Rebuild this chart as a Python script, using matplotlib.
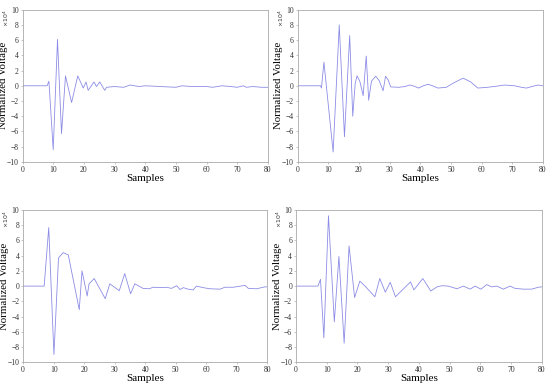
import matplotlib
matplotlib.use("Agg")
import matplotlib.pyplot as plt

# datos (x en muestras, y en unidades de 1e4)
x1 = [0, 8.0, 8.6, 10.0, 11.4, 12.7, 14.0, 16.0, 18.0, 19.8, 20.7, 21.4, 23.3, 24.1, 25.2, 26.8,
      27.4, 30, 33, 35, 38, 40, 45, 50, 52, 55, 60, 62, 65, 68, 70, 72, 73, 75, 78, 80]
y1 = [0, 0, 0.6, -8.4, 6.1, -6.3, 1.3, -2.2, 1.3, -0.3, 0.5, -0.6, 0.5, -0.1, 0.5, -0.6,
      -0.2, -0.1, -0.2, 0.1, -0.1, 0.0, -0.1, -0.2, 0.0, -0.1, -0.1, -0.2, 0.0, -0.1, -0.2, 0.0, -0.2, -0.1, -0.2, -0.2]

x2 = [0, 7.5, 7.8, 8.6, 11.6, 13.6, 15.3, 17.0, 18.0, 18.8, 19.4, 20.3, 21.4, 22.4, 23.2, 24.1,
      25.5, 26.6, 27.9, 28.7, 29.5, 30.4, 33, 35, 36.6, 38, 39.5, 41, 42.6, 44, 45.8, 48.5,
      51, 54, 56.5, 58.8, 62, 65, 67.5, 70.8, 73, 74.6, 76.5, 78.4, 80]
y2 = [0, 0, -0.3, 3.1, -8.7, 8.0, -6.7, 6.6, -4.0, 0.3, 1.3, 0.6, -1.3, 3.9, -1.9, 0.6,
      1.25, 0.7, -0.65, 1.25, 0.8, -0.15, -0.2, -0.1, 0.1, -0.05, -0.3, 0.0, 0.2, 0.0, -0.3, -0.2,
      0.4, 1.0, 0.5, -0.3, -0.2, -0.05, 0.1, 0.0, -0.2, -0.3, -0.1, 0.1, 0.0]

x3 = [0, 6.9, 8.4, 10.1, 11.6, 13.1, 14.8, 18.4, 19.3, 21.0, 21.6, 23.3, 26.9, 28.4, 31.5, 33.3,
      35.2, 36.6, 39.3, 41.3, 42.6, 45.9, 47, 48.6, 50.3, 51.4, 52.5, 54, 55.7, 56.8, 59, 61.2,
      64.5, 66.1, 68.9, 72.7, 73.8, 76.5, 79.2, 80]
y3 = [0, 0, 7.7, -9.0, 3.7, 4.4, 4.1, -3.1, 2.0, -1.3, 0.3, 1.0, -1.65, 0.3, -0.6, 1.65,
      -1.0, 0.3, -0.3, -0.35, -0.15, -0.2, -0.15, -0.3, 0.05, -0.45, -0.2, -0.4, -0.5, 0.0, -0.2, -0.35,
      -0.4, -0.15, -0.15, 0.1, -0.3, -0.35, -0.1, -0.1]

x4 = [0, 7.2, 8.0, 9.1, 10.6, 12.5, 14.0, 15.7, 17.3, 19.1, 20.8, 22.5, 25.7, 27.3, 29.1, 30.7,
      32.4, 37.3, 38.4, 41.3, 43.9, 45.9, 47.5, 49.6, 52.4, 54.5, 56.7, 58.3, 60.2, 62.1, 63.7,
      65.4, 67.5, 69.7, 71.3, 74, 76.7, 78.9, 80]
y4 = [0, 0, 0.9, -6.8, 9.25, -4.7, 3.9, -7.5, 5.3, -1.5, 0.65, 0.0, -1.4, 1.0, -0.8, 0.5,
      -1.4, 0.55, -0.5, 1.0, -0.65, -0.1, 0.05, 0.0, -0.35, 0.0, -0.4, 0.0, -0.4, 0.2, -0.1,
      0.0, -0.4, 0.0, -0.3, -0.4, -0.4, -0.15, -0.1]

series = [(x1, y1), (x2, y2), (x3, y3), (x4, y4)]
x_ticks = list(range(0, 81, 10))
y_ticks = list(range(-10, 11, 2))

# posiciones de los ejes [izq, abajo, ancho, alto]
boxes = [[0.041, 0.584, 0.446, 0.391],
         [0.541, 0.584, 0.446, 0.391],
         [0.042, 0.069, 0.444, 0.391],
         [0.538, 0.069, 0.447, 0.391]]

plt.rcParams['font.family'] = ['Liberation Serif', 'DejaVu Serif']

fig = plt.figure(figsize=(5.5, 3.89), dpi=100)

for (xs, ys), box in zip(series, boxes):
    ax = fig.add_axes(box)
    ax.plot(xs, ys, color='#8c8ce6', lw=0.6)
    ax.set_xlim(0, 80)
    ax.set_ylim(-10, 10)
    ax.set_xticks(x_ticks)
    ax.set_yticks(y_ticks)
    ax.tick_params(labelsize=5.5, length=1.5, width=0.4, color='#999999', pad=1.2,
                   labelcolor='#333333')
    for s in ax.spines.values():
        s.set_color('#aaaaaa')
        s.set_linewidth(0.6)
    ax.set_xlabel('Samples', fontsize=8, labelpad=0)
    ax.set_ylabel('Normalized Voltage', fontsize=7.8)
    ax.yaxis.set_label_coords(-0.058, 0.5)
    ax.text(-0.068, 1.0, r'$\times10^4$', transform=ax.transAxes, rotation=90,
            fontsize=4.5, va='top', ha='center', color='#333333')

fig.savefig('out.png', dpi=100)
